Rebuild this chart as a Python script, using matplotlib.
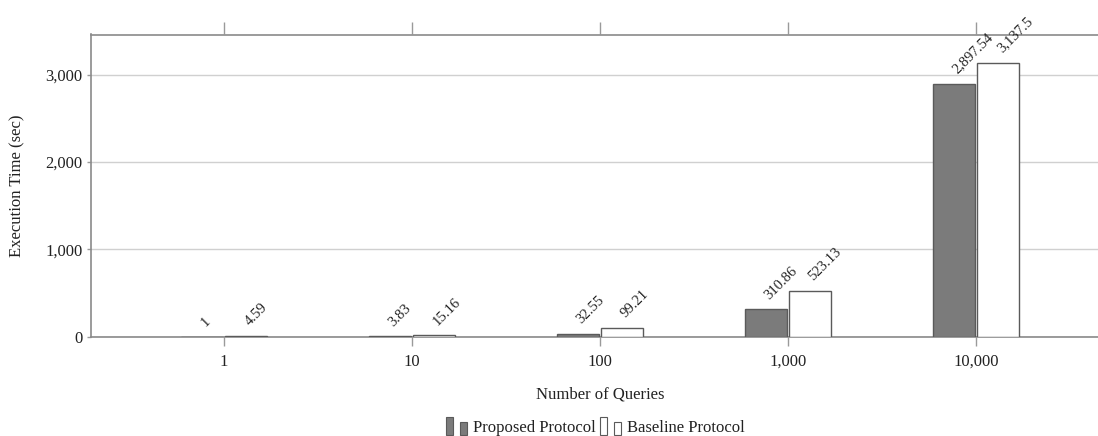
import matplotlib
matplotlib.use("Agg")
import matplotlib.pyplot as plt
import numpy as np
from matplotlib.patches import Rectangle

categories = ["1", "10", "100", "1,000", "10,000"]
proposed = [1, 3.83, 32.55, 310.86, 2897.54]
baseline = [4.59, 15.16, 99.21, 523.13, 3137.5]
series_names = ["Proposed Protocol", "Baseline Protocol"]

plt.rcParams['font.family'] = ['Liberation Serif', 'DejaVu Serif']

W, H = 1098, 436
fig = plt.figure(figsize=(W / 100, H / 100), dpi=100)
left, right, top, bottom = 91, 1109, 34.5, 336.6
ax = fig.add_axes([left / W, 1 - bottom / H, (right - left) / W, (bottom - top) / H])

x = np.arange(len(categories))
bw = 0.222
off = 0.117
edge = "#5a5a5a"
gray = "#7b7b7b"
txt = "#222222"
b1 = ax.bar(x - off, proposed, bw, color=gray, edgecolor=edge, linewidth=1.0, zorder=3)
b2 = ax.bar(x + off, baseline, bw, color="white", edgecolor=edge, linewidth=1.0, zorder=3)

def fmt(v):
    return f"{v:,.2f}".rstrip('0').rstrip('.')

for bars, vals in ((b1, proposed), (b2, baseline)):
    for r, v in zip(bars, vals):
        cx = r.get_x() + r.get_width() / 2
        ax.annotate(fmt(v), (cx, v), xytext=(4, 5.5), textcoords="offset points",
                    rotation=45, rotation_mode="anchor", ha="left", va="bottom",
                    fontsize=10.5, color=txt, zorder=4, annotation_clip=False)

ax.set_xlim(-0.707, 4.707)
ax.set_ylim(0, 3460)
ax.set_xticks(x)
ax.set_xticklabels(categories)
ax.set_yticks([0, 1000, 2000, 3000])
ax.set_yticklabels(["0", "1,000", "2,000", "3,000"])
ax.yaxis.grid(True, color="#d0d0d0", linewidth=1.0, zorder=0)
ax.set_axisbelow(True)

for s in ax.spines.values():
    s.set_color("#8a8a8a")
    s.set_linewidth(1.2)

ax.tick_params(axis="x", direction="out", length=6.5, width=1, color="#9a9a9a",
               labelsize=12, labelcolor=txt, pad=6)
ax.tick_params(axis="y", direction="out", length=3, width=1, color="#9a9a9a",
               labelsize=12, labelcolor=txt, pad=3)

sec = ax.secondary_xaxis('top')
sec.set_xticks(x)
sec.set_xticklabels([])
sec.tick_params(direction="out", length=9, width=1, color="#9a9a9a")
sec.spines['top'].set_visible(False)

ax.set_xlabel("Number of Queries", fontsize=12, color=txt, labelpad=12)
ax.set_ylabel("Execution Time (sec)", fontsize=12, color=txt)
ax.yaxis.set_label_coords(-(91 - 25) / (right - left), 0.5)

# legend drawn in figure pixel coordinates
def px_rect(x0, y0, w, h, fc):
    fig.add_artist(Rectangle((x0 / W, 1 - (y0 + h) / H), w / W, h / H,
                             transform=fig.transFigure, facecolor=fc,
                             edgecolor=edge, linewidth=0.8))

ly = 428
px_rect(446, 417, 7, 18, gray)
px_rect(460, 422, 7, 13, gray)
fig.text(473 / W, 1 - ly / H, series_names[0], fontsize=12, color=txt, ha="left", va="center")
px_rect(600, 417, 7, 18, "white")
px_rect(614, 422, 7, 13, "white")
fig.text(627 / W, 1 - ly / H, series_names[1], fontsize=12, color=txt, ha="left", va="center")

fig.savefig("out.png", dpi=100)
